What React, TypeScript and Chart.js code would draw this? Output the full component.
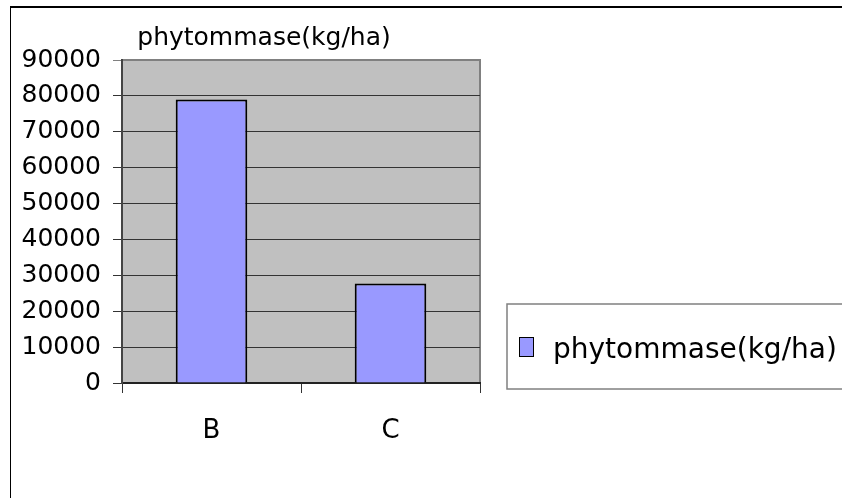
import React, { useEffect, useRef } from 'react';
import { Chart, registerables } from 'chart.js';

Chart.register(...registerables);

const categories: string[] = ['B', 'C'];
const seriesLabel = 'phytommase(kg/ha)';
const seriesValues: number[] = [79000, 27700];
const chartTitle = 'phytommase(kg/ha)';
const yMin = 0;
const yMax = 90000;
const yStep = 10000;

const FONT = "'DejaVu Sans', sans-serif";
const W = 842;
const H = 498;

const decorPlugin = {
  id: 'decor',
  beforeDraw(chart: any) {
    const { ctx, chartArea: a } = chart;
    ctx.save();
    ctx.fillStyle = '#ffffff';
    ctx.fillRect(0, 0, W, H);
    // outer frame
    ctx.strokeStyle = '#000000';
    ctx.lineWidth = 2;
    ctx.beginPath();
    ctx.moveTo(10, 7);
    ctx.lineTo(W, 7);
    ctx.stroke();
    ctx.lineWidth = 1;
    ctx.beginPath();
    ctx.moveTo(10.5, 7);
    ctx.lineTo(10.5, H);
    ctx.stroke();
    // plot background
    ctx.fillStyle = '#C0C0C0';
    ctx.fillRect(a.left, a.top, a.right - a.left, a.bottom - a.top);
    ctx.strokeStyle = '#808080';
    ctx.lineWidth = 2;
    ctx.strokeRect(a.left, a.top, a.right - a.left, a.bottom - a.top);
    ctx.restore();
  },
  afterDraw(chart: any) {
    const { ctx } = chart;
    ctx.save();
    // title
    ctx.fillStyle = '#000000';
    ctx.font = `25px ${FONT}`;
    ctx.textAlign = 'center';
    ctx.textBaseline = 'alphabetic';
    ctx.fillText(chartTitle, 264, 45);
    // legend box
    const ds = chart.data.datasets[0];
    ctx.strokeStyle = '#808080';
    ctx.lineWidth = 1.5;
    ctx.strokeRect(507, 304, 400, 85);
    ctx.fillStyle = ds.backgroundColor;
    ctx.fillRect(519, 337, 14, 19);
    ctx.strokeStyle = '#000000';
    ctx.lineWidth = 1;
    ctx.strokeRect(519.5, 337.5, 14, 19);
    ctx.fillStyle = '#000000';
    ctx.font = `28px ${FONT}`;
    ctx.textAlign = 'left';
    ctx.fillText(ds.label, 553, 358);
    ctx.restore();
  },
};

export default function App() {
  const ref = useRef<HTMLCanvasElement | null>(null);

  useEffect(() => {
    if (!ref.current) return;
    const chart = new Chart(ref.current, {
      type: 'bar',
      data: {
        labels: categories,
        datasets: [
          {
            label: seriesLabel,
            data: seriesValues,
            backgroundColor: '#9999FF',
            borderColor: '#000000',
            borderWidth: 2,
            categoryPercentage: 1,
            barPercentage: 0.4,
          },
        ],
      },
      options: {
        responsive: false,
        animation: false,
        devicePixelRatio: 1,
        layout: { padding: { left: 0, top: 60, right: W - 480, bottom: 0 } },
        plugins: {
          legend: { display: false },
          title: { display: false },
          tooltip: { enabled: false },
        },
        scales: {
          x: {
            offset: true,
            grid: {
              offset: true,
              drawOnChartArea: false,
              drawTicks: true,
              tickLength: 10,
              color: '#333333',
              lineWidth: 1,
            },
            border: { display: true, color: '#222222', width: 2 },
            ticks: {
              color: '#000000',
              font: { family: FONT, size: 26 },
              padding: 23,
            },
            afterFit: (s: any) => {
              s.height = H - 383;
            },
          },
          y: {
            min: yMin,
            max: yMax,
            ticks: {
              stepSize: yStep,
              color: '#000000',
              font: { family: FONT, size: 25 },
              padding: 12,
              callback: (v: any) => String(v),
            },
            grid: {
              color: (c: any) => (c.tick && c.tick.value === yMax ? '#808080' : '#333333'),
              lineWidth: 1,
              drawTicks: true,
              tickLength: 9,
            },
            border: { display: true, color: '#444444', width: 2 },
            afterFit: (s: any) => {
              s.width = 122;
            },
          },
        },
      },
      plugins: [decorPlugin],
    });
    return () => chart.destroy();
  }, []);

  return (
    <div style={{ position: 'absolute', left: 0, top: 0, width: W, height: H, background: '#fff' }}>
      <canvas ref={ref} width={W} height={H} style={{ display: 'block' }} />
    </div>
  );
}
